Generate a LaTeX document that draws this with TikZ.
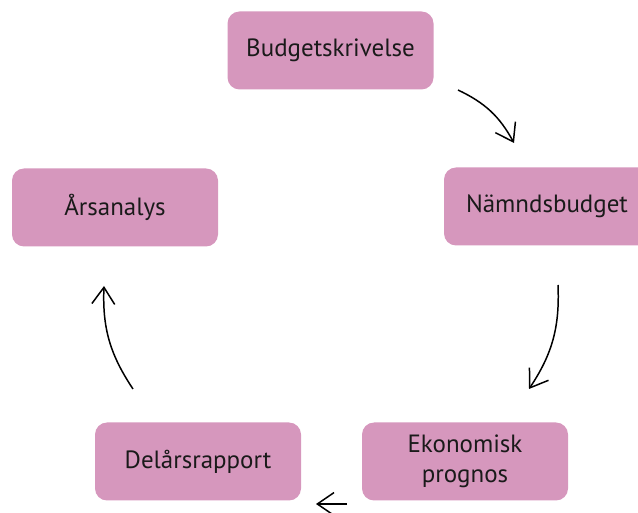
\documentclass[tikz,border=0pt]{standalone}
\usepackage{fontspec}
\setmainfont{PT Sans}
\usetikzlibrary{arrows.meta}
\definecolor{stegrosa}{HTML}{D697BD}
\definecolor{stegtext}{HTML}{1A1A1A}
\begin{document}
\begin{tikzpicture}[
  steg/.style={draw=none,fill=stegrosa,rounded corners=0.24cm,minimum width=4.12cm,
    minimum height=1.56cm,align=center,text=stegtext,font=\fontsize{14.2}{16.8}\selectfont},
  pil/.style={line width=0.85pt,-{Straight Barb[length=9.5pt,width=13pt,line width=0.85pt]}}]
\useasboundingbox (0,0) rectangle (12.76,-10.26);

% stegen i cykeln
\node[steg] (budgetskrivelse) at (6.61,-1.01) {Budgetskrivelse};
\node[steg] (namndsbudget) at (10.94,-4.13) {Nämndsbudget};
\node[steg] (prognos) at (9.30,-9.23) {Ekonomisk\\prognos};
\node[steg] (delarsrapport) at (3.96,-9.23) {Delårsrapport};
\node[steg] (arsanalys) at (2.30,-4.15) {Årsanalys};

% pilarnas ändar
\coordinate (p1a) at (9.16,-1.80);
\coordinate (p1b) at (10.28,-2.86);
\coordinate (p2a) at (11.16,-5.70);
\coordinate (p2b) at (10.58,-7.78);
\coordinate (p3a) at (6.94,-10.08);
\coordinate (p3b) at (6.32,-10.08);
\coordinate (p4a) at (2.66,-7.78);
\coordinate (p4b) at (2.08,-5.72);

\draw[pil] (p1a) to[bend left=18] (p1b);
\draw[pil] (p2a) to[bend left=18] (p2b);
\draw[pil] (p3a) -- (p3b);
\draw[pil] (p4a) to[bend left=18] (p4b);
\end{tikzpicture}
\end{document}
